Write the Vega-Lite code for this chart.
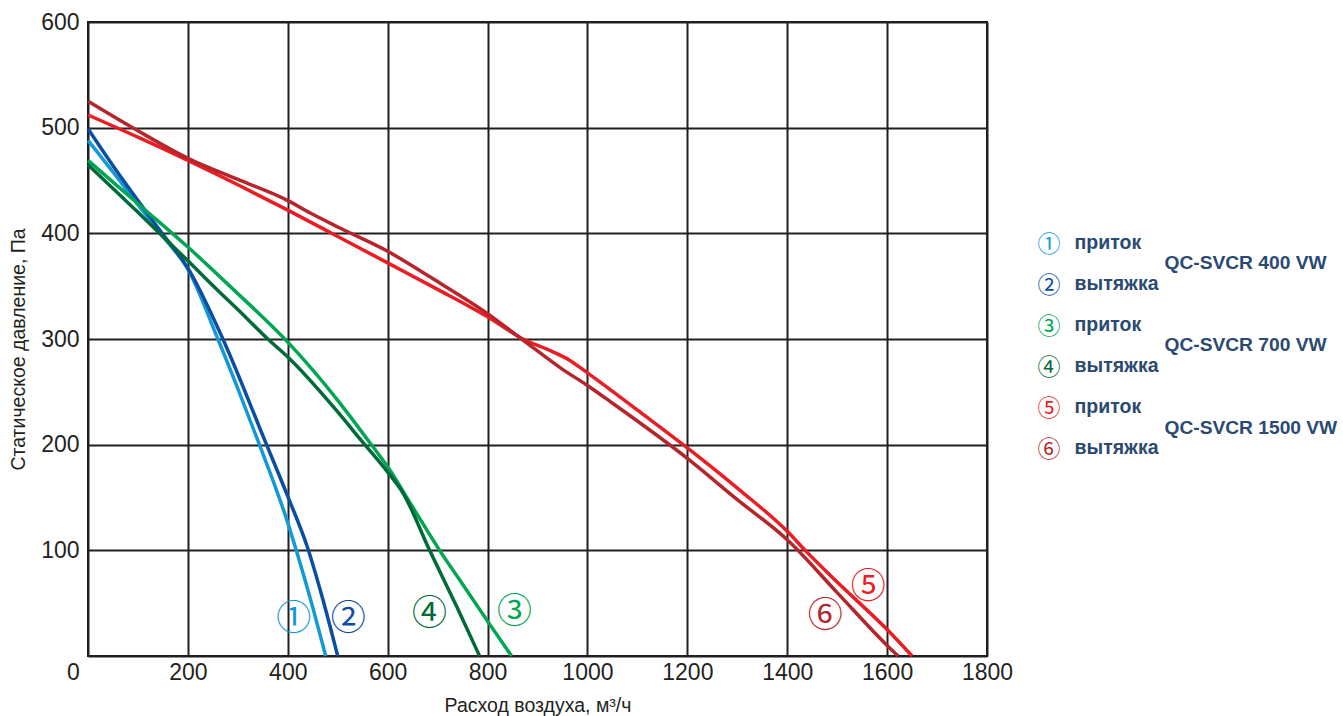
{
  "$schema": "https://vega.github.io/schema/vega-lite/v6.json",
  "autosize": "none",
  "width": 899,
  "height": 634,
  "padding": {"left": 88, "top": 22, "right": 356, "bottom": 60},
  "background": "white",
  "config": {
    "view": {"stroke": "#231f20", "strokeWidth": 2},
    "axis": {
      "labelFont": "Liberation Sans",
      "titleFont": "Liberation Sans",
      "labelColor": "#231f20",
      "titleColor": "#231f20",
      "labelFontSize": 23,
      "titleFontSize": 19.5,
      "titleFontWeight": "normal",
      "gridColor": "#231f20",
      "gridOpacity": 1,
      "gridWidth": 2,
      "ticks": false,
      "tickSize": 0,
      "domain": false,
      "format": "d"
    }
  },
  "datasets": {
    "curves": [
      {"series": "1", "flow": 0, "pressure": 488},
      {"series": "1", "flow": 50, "pressure": 458},
      {"series": "1", "flow": 100, "pressure": 427},
      {"series": "1", "flow": 150, "pressure": 397},
      {"series": "1", "flow": 200, "pressure": 366},
      {"series": "1", "flow": 260, "pressure": 300},
      {"series": "1", "flow": 300, "pressure": 253},
      {"series": "1", "flow": 340, "pressure": 204},
      {"series": "1", "flow": 400, "pressure": 126},
      {"series": "1", "flow": 417, "pressure": 100},
      {"series": "1", "flow": 450, "pressure": 46},
      {"series": "1", "flow": 476, "pressure": 0},

      {"series": "2", "flow": 0, "pressure": 499},
      {"series": "2", "flow": 50, "pressure": 464},
      {"series": "2", "flow": 100, "pressure": 431},
      {"series": "2", "flow": 150, "pressure": 399},
      {"series": "2", "flow": 200, "pressure": 367},
      {"series": "2", "flow": 270, "pressure": 300},
      {"series": "2", "flow": 354, "pressure": 204},
      {"series": "2", "flow": 400, "pressure": 151},
      {"series": "2", "flow": 440, "pressure": 102},
      {"series": "2", "flow": 470, "pressure": 54},
      {"series": "2", "flow": 500, "pressure": 0},

      {"series": "3", "flow": 0, "pressure": 469},
      {"series": "3", "flow": 100, "pressure": 428},
      {"series": "3", "flow": 200, "pressure": 387},
      {"series": "3", "flow": 293, "pressure": 346},
      {"series": "3", "flow": 400, "pressure": 297},
      {"series": "3", "flow": 500, "pressure": 242},
      {"series": "3", "flow": 561, "pressure": 204},
      {"series": "3", "flow": 600, "pressure": 179},
      {"series": "3", "flow": 650, "pressure": 141},
      {"series": "3", "flow": 704, "pressure": 100},
      {"series": "3", "flow": 750, "pressure": 68},
      {"series": "3", "flow": 800, "pressure": 33},
      {"series": "3", "flow": 848, "pressure": 0},

      {"series": "4", "flow": 0, "pressure": 465},
      {"series": "4", "flow": 100, "pressure": 420},
      {"series": "4", "flow": 200, "pressure": 374},
      {"series": "4", "flow": 260, "pressure": 346},
      {"series": "4", "flow": 300, "pressure": 328},
      {"series": "4", "flow": 360, "pressure": 300},
      {"series": "4", "flow": 400, "pressure": 283},
      {"series": "4", "flow": 500, "pressure": 231},
      {"series": "4", "flow": 547, "pressure": 204},
      {"series": "4", "flow": 600, "pressure": 174},
      {"series": "4", "flow": 631, "pressure": 154},
      {"series": "4", "flow": 684, "pressure": 100},
      {"series": "4", "flow": 738, "pressure": 47},
      {"series": "4", "flow": 784, "pressure": 0},

      {"series": "5", "flow": 0, "pressure": 512},
      {"series": "5", "flow": 100, "pressure": 491},
      {"series": "5", "flow": 200, "pressure": 469},
      {"series": "5", "flow": 300, "pressure": 446},
      {"series": "5", "flow": 400, "pressure": 422},
      {"series": "5", "flow": 500, "pressure": 397},
      {"series": "5", "flow": 600, "pressure": 372},
      {"series": "5", "flow": 700, "pressure": 347},
      {"series": "5", "flow": 800, "pressure": 321},
      {"series": "5", "flow": 871, "pressure": 300},
      {"series": "5", "flow": 930, "pressure": 288},
      {"series": "5", "flow": 964, "pressure": 280},
      {"series": "5", "flow": 1000, "pressure": 268},
      {"series": "5", "flow": 1105, "pressure": 231},
      {"series": "5", "flow": 1200, "pressure": 197},
      {"series": "5", "flow": 1305, "pressure": 157},
      {"series": "5", "flow": 1400, "pressure": 118},
      {"series": "5", "flow": 1438, "pressure": 99},
      {"series": "5", "flow": 1500, "pressure": 70},
      {"series": "5", "flow": 1600, "pressure": 25},
      {"series": "5", "flow": 1650, "pressure": 0},

      {"series": "6", "flow": 0, "pressure": 525},
      {"series": "6", "flow": 100, "pressure": 497},
      {"series": "6", "flow": 200, "pressure": 471},
      {"series": "6", "flow": 300, "pressure": 451},
      {"series": "6", "flow": 400, "pressure": 431},
      {"series": "6", "flow": 450, "pressure": 418},
      {"series": "6", "flow": 500, "pressure": 406},
      {"series": "6", "flow": 600, "pressure": 383},
      {"series": "6", "flow": 694, "pressure": 356},
      {"series": "6", "flow": 800, "pressure": 324},
      {"series": "6", "flow": 871, "pressure": 299},
      {"series": "6", "flow": 948, "pressure": 272},
      {"series": "6", "flow": 1000, "pressure": 256},
      {"series": "6", "flow": 1045, "pressure": 241},
      {"series": "6", "flow": 1200, "pressure": 187},
      {"series": "6", "flow": 1300, "pressure": 148},
      {"series": "6", "flow": 1400, "pressure": 110},
      {"series": "6", "flow": 1500, "pressure": 60},
      {"series": "6", "flow": 1600, "pressure": 10},
      {"series": "6", "flow": 1622, "pressure": 0}
    ],
    "tags": [
      {"series": "1", "glyph": "①", "flow": 412, "pressure": 39},
      {"series": "2", "glyph": "②", "flow": 521, "pressure": 39},
      {"series": "3", "glyph": "③", "flow": 854, "pressure": 45},
      {"series": "4", "glyph": "④", "flow": 684, "pressure": 44},
      {"series": "5", "glyph": "⑤", "flow": 1562, "pressure": 69},
      {"series": "6", "glyph": "⑥", "flow": 1476, "pressure": 42}
    ],
    "legend": [
      {"series": "1", "glyph": "①", "kind": "приток", "model": "QC-SVCR 400 VW"},
      {"series": "2", "glyph": "②", "kind": "вытяжка", "model": "QC-SVCR 400 VW"},
      {"series": "3", "glyph": "③", "kind": "приток", "model": "QC-SVCR 700 VW"},
      {"series": "4", "glyph": "④", "kind": "вытяжка", "model": "QC-SVCR 700 VW"},
      {"series": "5", "glyph": "⑤", "kind": "приток", "model": "QC-SVCR 1500 VW"},
      {"series": "6", "glyph": "⑥", "kind": "вытяжка", "model": "QC-SVCR 1500 VW"}
    ]
  },
  "resolve": {"scale": {"y": "independent"}, "axis": {"y": "independent"}},
  "layer": [
    {
      "layer": [
        {
          "data": {"name": "curves"},
          "mark": {"type": "line", "strokeWidth": 3.5, "interpolate": "monotone", "strokeCap": "butt"},
          "encoding": {
            "x": {
              "field": "flow", "type": "quantitative",
              "scale": {"domain": [0, 1800], "nice": false},
              "axis": {
                "values": [0, 200, 400, 600, 800, 1000, 1200, 1400, 1600, 1800],
                "grid": true,
                "labelFlush": false,
                "labelPadding": 5.5,
                "labelOffset": {"condition": {"test": "datum.value == 0", "value": -15}, "value": 0},
                "title": "Расход воздуха, м³/ч",
                "titlePadding": 11.5
              }
            },
            "y": {
              "field": "pressure", "type": "quantitative",
              "scale": {"domain": [0, 600], "nice": false},
              "axis": {
                "values": [0, 100, 200, 300, 400, 500, 600],
                "grid": true,
                "labelPadding": 9,
                "labelExpr": "datum.value == 0 ? '' : datum.label",
                "title": "Статическое давление, Па",
                "titlePadding": 12,
                "titleY": 327
              }
            },
            "color": {
              "field": "series", "type": "nominal",
              "scale": {"domain": ["1", "2", "3", "4", "5", "6"], "range": ["#1399d6", "#0b4ea2", "#00a651", "#006a38", "#ec1c24", "#b5262c"]},
              "legend": null
            },
            "detail": {"field": "series"}
          }
        },
        {
          "data": {"name": "tags"},
          "mark": {"type": "text", "font": "Noto Sans CJK JP", "fontSize": 35, "baseline": "middle", "align": "center", "dy": 4},
          "encoding": {
            "x": {"field": "flow", "type": "quantitative"},
            "y": {"field": "pressure", "type": "quantitative"},
            "text": {"field": "glyph"},
            "color": {"field": "series", "type": "nominal", "legend": null}
          }
        }
      ]
    },
    {
      "data": {"name": "legend"},
      "transform": [
        {"window": [{"op": "row_number", "as": "row"}], "sort": [{"field": "series"}]}
      ],
      "encoding": {
        "y": {"field": "row", "type": "quantitative", "scale": {"domain": [-4.37, 11.056], "reverse": true, "nice": false, "zero": false}, "axis": null}
      },
      "layer": [
        {
          "mark": {"type": "text", "font": "Noto Sans CJK JP", "fontSize": 23, "baseline": "middle", "align": "center", "dx": 511.5, "dy": 2},
          "encoding": {
            "text": {"field": "glyph"},
            "color": {"field": "series", "type": "nominal", "legend": null}
          }
        },
        {
          "mark": {"type": "text", "font": "Liberation Sans", "fontWeight": "bold", "fontSize": 19.5, "baseline": "middle", "align": "left", "dx": 537, "color": "#2b4a72"},
          "encoding": {
            "text": {"field": "kind"}
          }
        },
        {
          "transform": [{"filter": "datum.kind == 'приток'"}],
          "mark": {"type": "text", "font": "Liberation Sans", "fontWeight": "bold", "fontSize": 19.2, "baseline": "middle", "align": "left", "dx": 627, "dy": 20.5, "color": "#2b4a72"},
          "encoding": {
            "text": {"field": "model"}
          }
        }
      ]
    }
  ]
}
